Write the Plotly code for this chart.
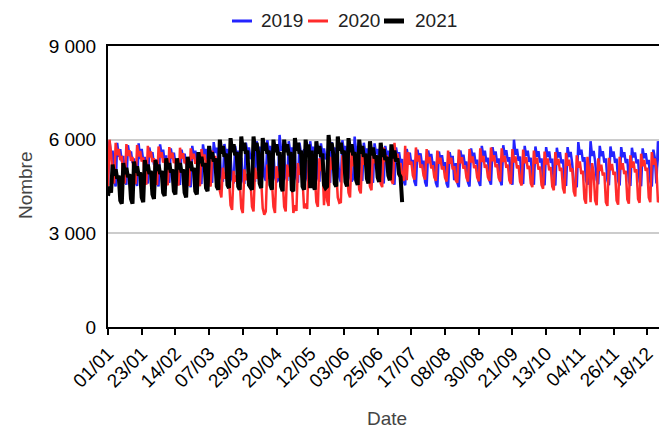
import pandas as pd
import plotly.graph_objects as go

# Day labels (2020 calendar, dd/mm)
dates = list(pd.date_range("2020-01-01", "2020-12-31", freq="D").strftime("%d/%m"))
tick_labels = ["01/01", "23/01", "14/02", "07/03", "29/03", "20/04", "12/05", "03/06",
               "25/06", "17/07", "08/08", "30/08", "21/09", "13/10", "04/11", "26/11", "18/12"]
y_ticks = [0, 3000, 6000, 9000]
y_tick_text = ["0", "3 000", "6 000", "9 000"]

v2019 = [
    4550, 5950, 5500, 5650, 4700, 4500,
    5900, 5450, 5700, 5300, 5480, 4720, 4560,
    5820, 5500, 5620, 5250, 5400, 4650, 4520,
    5880, 5380, 5700, 5320, 5450, 4700, 4600,
    5750, 5450, 5600, 5200, 5380, 4680, 4500,
    5850, 5520, 5680, 5300, 5500, 4750, 4620,
    5720, 5400, 5580, 5250, 5350, 4690, 4550,
    5680, 5420, 5550, 5200, 5330, 4640, 4480,
    5800, 5460, 5650, 5280, 5420, 4700, 4580,
    5850, 5500, 5700, 5330, 5480, 4760, 4620,
    5920, 5580, 5740, 5380, 5500, 4780, 4650,
    5860, 5520, 5700, 5350, 5460, 4740, 4600,
    5800, 5480, 5650, 5300, 5420, 4720, 4580,
    5900, 5560, 5750, 5380, 5520, 4800, 4650,
    5950, 5600, 5780, 5400, 5550, 4820, 4680,
    5980, 5620, 5800, 5420, 5560, 4800, 4650,
    4700, 6150, 5650, 5780, 5450, 4820, 4680,
    5950, 5580, 5750, 5380, 5500, 4780, 4620,
    5900, 5560, 5000, 5700, 5450, 4760, 4600,
    5950, 5600, 5780, 5400, 5520, 4790, 4650,
    5880, 5550, 5720, 5370, 5480, 4770, 4620,
    5920, 5580, 5750, 4700, 5500, 4800, 4640,
    5980, 5620, 5800, 5420, 5550, 4800, 4660,
    4750, 6100, 5620, 5780, 5450, 4820, 4680,
    5900, 5560, 5720, 5380, 5480, 4760, 4620,
    5880, 5540, 5700, 5350, 5460, 4740, 4600,
    5800, 5500, 5650, 5300, 5420, 4700, 4560,
    5750, 5460, 5600, 5250, 5380, 4680, 4540,
    5700, 5420, 5580, 5220, 5350, 4660, 4520,
    5680, 5400, 5560, 5200, 5330, 4640, 4500,
    5650, 5380, 5540, 5180, 5300, 4620, 4480,
    5620, 5350, 5500, 5150, 5280, 4600, 4470,
    5600, 5340, 5480, 4700, 5250, 4620, 4480,
    5650, 5380, 5520, 5180, 5300, 4630, 4500,
    5720, 5430, 5580, 5230, 5360, 4660, 4520,
    5800, 5480, 5650, 5280, 5420, 4700, 4560,
    5760, 5460, 5620, 5260, 5400, 4690, 4540,
    5820, 5500, 5660, 5300, 5440, 4710, 4560,
    6000, 5520, 5700, 5320, 5460, 4720, 4580,
    5800, 5480, 5650, 5290, 5420, 4700, 4560,
    5780, 5460, 5630, 5270, 5400, 4690, 4540,
    5760, 5450, 5620, 5260, 5390, 4680, 4530,
    5740, 5430, 5600, 5240, 5370, 4660, 4520,
    5760, 5450, 5610, 5250, 4650, 4580, 4480,
    5920, 5520, 5680, 5300, 5440, 4700, 4560,
    4700, 5950, 5480, 5640, 5300, 4720, 4570,
    5800, 5470, 5630, 5270, 5400, 4690, 4540,
    5780, 5460, 5620, 5260, 5390, 4680, 4530,
    5760, 5440, 5600, 5250, 5380, 4670, 4520,
    5740, 5430, 5590, 5240, 5370, 4660, 4510,
    5720, 5410, 5570, 5220, 5350, 4650, 4500,
    5680, 5400, 4600, 5950, 5500, 4700, 4540,
    5600, 5250,
]

v2020 = [
    4500, 6000, 5550, 4800, 4600,
    5900, 5500, 5700, 5350, 5480, 4750, 4600,
    5860, 5480, 5660, 5320, 5450, 4720, 4580,
    5830, 5460, 5640, 5300, 5430, 4700, 4560,
    5800, 5440, 5620, 5280, 5410, 4690, 4550,
    5780, 5430, 5600, 5270, 5400, 4680, 4540,
    5760, 5410, 5580, 5250, 5380, 4670, 4530,
    5740, 5400, 5570, 5240, 5370, 4660, 4520,
    5720, 5380, 5550, 5230, 5360, 4650, 4510,
    5700, 5370, 5530, 5220, 5350, 4640, 4500,
    5650, 5320, 5480, 5150, 5100, 4350, 4150,
    5100, 4750, 4950, 4600, 4700, 3900, 3750,
    5000, 4650, 4850, 4550, 4650, 3800, 3650,
    5050, 4700, 4900, 4580, 4680, 3850, 3700,
    5100, 4750, 4950, 4600, 4700, 3800, 3600,
    3700, 5200, 4750, 4900, 4650, 3850, 3650,
    5150, 4780, 4980, 4620, 4720, 3850, 3700,
    5200, 4820, 5000, 4650, 3650, 3900, 3720,
    5250, 4880, 5050, 4700, 3800, 3950, 3780,
    5350, 4950, 5150, 4780, 4850, 4000, 3850,
    5400, 5000, 5200, 3900, 4900, 4050, 3880,
    5450, 5050, 5250, 4850, 4950, 4150, 3980,
    4000, 5500, 5050, 5250, 4950, 4300, 4150,
    5600, 5150, 5350, 4950, 5050, 4400, 4280,
    5650, 5200, 5400, 5000, 5100, 4500, 4380,
    5700, 5250, 5450, 5050, 5150, 4600, 4480,
    5750, 5300, 5500, 5100, 5200, 4700, 4580,
    5900, 5350, 5550, 5150, 5250, 4800, 4680,
    5800, 4700, 5600, 5200, 5300, 4850, 4720,
    5750, 5300, 5500, 5100, 5200, 4850, 4720,
    5700, 5250, 5450, 5080, 5180, 4800, 4680,
    5650, 5230, 5420, 5050, 5150, 4780, 4660,
    5650, 5230, 5420, 5050, 5150, 4700, 4620,
    5680, 5250, 5440, 5070, 5170, 4780, 4660,
    5700, 5270, 5460, 5090, 5190, 4790, 4670,
    5720, 5290, 5480, 5100, 5200, 4800, 4680,
    5750, 5310, 5500, 5120, 5220, 4780, 4660,
    5720, 5290, 5480, 5100, 5200, 4700, 4580,
    5700, 5270, 5460, 5080, 5180, 4650, 4530,
    5680, 5250, 5440, 5060, 5160, 4600, 4480,
    5650, 5230, 5420, 5040, 5140, 4550, 4430,
    5620, 5210, 5400, 5020, 5120, 4500, 4380,
    5600, 5190, 5380, 5000, 5100, 4450, 4280,
    5580, 5170, 5360, 4980, 5080, 4350, 4180,
    5500, 5100, 5300, 4900, 5000, 4100, 3950,
    5450, 5050, 4000, 5250, 4950, 4050, 3900,
    5400, 5000, 5200, 4850, 4950, 4000, 3880,
    5420, 5020, 5220, 4870, 4970, 4050, 3920,
    5450, 5050, 5250, 4900, 5000, 4080, 3950,
    5500, 5100, 5300, 4950, 5050, 4100, 3980,
    5550, 5150, 5350, 5000, 5100, 4150, 4000,
    5600, 5200, 5400, 5050, 4000, 4100, 3950,
    5650, 5250, 5450, 4800,
]

v2021 = [
    4200, 4500, 4300,
    5200, 4850, 5050, 4750, 4850, 4050, 3950,
    5250, 4900, 5100, 4800, 4900, 4100, 3950,
    5300, 4950, 5150, 4850, 4950, 4150, 4000,
    5350, 5000, 5200, 4900, 5000, 4250, 4100,
    5350, 5000, 5200, 4900, 5000, 4300, 4200,
    5400, 5050, 5250, 4950, 5050, 4350, 4250,
    5400, 5050, 5250, 4950, 5050, 4300, 4150,
    5450, 5100, 5300, 5000, 5100, 4350, 4250,
    5600, 5250, 5450, 5150, 5250, 4450, 4350,
    5800, 5400, 5600, 5300, 5400, 4500, 4400,
    6000, 5550, 5800, 5450, 5550, 4550, 4450,
    6050, 5600, 5850, 5500, 5600, 4500, 4400,
    6100, 5650, 5900, 5550, 5650, 4550, 4450,
    4400, 6100, 5650, 5900, 5600, 4600, 4450,
    6050, 5650, 5900, 5550, 5650, 4550, 4400,
    6000, 5600, 5850, 5500, 5600, 4500, 4350,
    6000, 5600, 5850, 5500, 5600, 4400, 4350,
    6050, 5650, 5900, 5550, 5650, 4500, 4400,
    6000, 5600, 5850, 4450, 5650, 4550, 4400,
    5950, 5550, 5800, 5450, 5550, 4550, 4450,
    4500, 6150, 5650, 5900, 5550, 4600, 4500,
    6100, 5650, 5900, 5550, 5650, 4650, 4500,
    6050, 5600, 5850, 5500, 5600, 4700, 4550,
    6000, 5550, 5800, 5450, 5550, 4750, 4600,
    5950, 5500, 5750, 5400, 5500, 4800, 4650,
    5900, 5450, 5700, 5350, 5450, 4850, 4700,
    5850, 5400, 5650, 5300, 5400, 4900, 4800,
    4000,
]

series = [
    ("2019", v2019, "#2424ff", 2.5),
    ("2020", v2020, "#ff2b2b", 2.5),
    ("2021", v2021, "#000000", 4),
]

fig = go.Figure()
for name, vals, color, w in series:
    fig.add_trace(go.Scatter(
        x=dates[:len(vals)], y=vals, mode="lines", name=name,
        line=dict(color=color, width=w), showlegend=False,
    ))

font_family = "Liberation Sans, Arial, sans-serif"
FS = 19

# The page body adds an 8px offset, so the figure is 8px smaller on each axis.
fig.update_layout(
    width=659, height=421,
    margin=dict(l=100, r=0, t=38, b=102, autoexpand=False),
    plot_bgcolor="white", paper_bgcolor="white",
    font=dict(family=font_family, size=FS, color="#000000"),
)

fig.update_xaxes(
    type="category", categoryorder="array", categoryarray=dates,
    range=[0, 364.9],
    tickmode="array", tickvals=tick_labels, ticktext=tick_labels,
    tickangle=-45, ticks="outside", ticklen=6, tickwidth=2, tickcolor="black",
    showline=True, linecolor="black", linewidth=2, mirror=True,
    showgrid=False, zeroline=False, automargin=False,
    tickfont=dict(size=FS, color="#000000"),
)
fig.update_yaxes(
    range=[0, 9000],
    tickmode="array", tickvals=y_ticks, ticktext=y_tick_text,
    showline=True, linecolor="black", linewidth=2, mirror=False,
    showgrid=True, gridcolor="#cccccc", gridwidth=2, zeroline=False,
    ticks="", ticklabelstandoff=6, automargin=False,
    tickfont=dict(size=FS, color="#000000"),
)

# Axis titles
fig.add_annotation(text="Date", xref="paper", yref="paper", x=0.499, y=-0.324,
                   showarrow=False, font=dict(size=FS, color="#444444"),
                   xanchor="center", yanchor="middle", borderpad=0)
fig.add_annotation(text="Nombre", xref="paper", yref="paper", x=-0.1485, y=0.505,
                   showarrow=False, textangle=-90, font=dict(size=FS, color="#444444"),
                   xanchor="center", yanchor="middle")

# Manual legend
legend_items = [
    ("2019", "#2424ff", 3, 0.2218, 0.2576, 0.2701),
    ("2020", "#ff2b2b", 3, 0.3578, 0.3936, 0.4079),
    ("2021", "#000000", 5, 0.4937, 0.5295, 0.5456),
]
ly = 1.089
for name, color, w, x0, x1, tx in legend_items:
    fig.add_shape(type="line", xref="paper", yref="paper", x0=x0, x1=x1, y0=ly, y1=ly,
                  line=dict(color=color, width=w))
    fig.add_annotation(text=name, xref="paper", yref="paper", x=tx, y=ly,
                       showarrow=False, xanchor="left", yanchor="middle",
                       font=dict(size=FS, color="#222222"))

fig.write_html("out.html")
